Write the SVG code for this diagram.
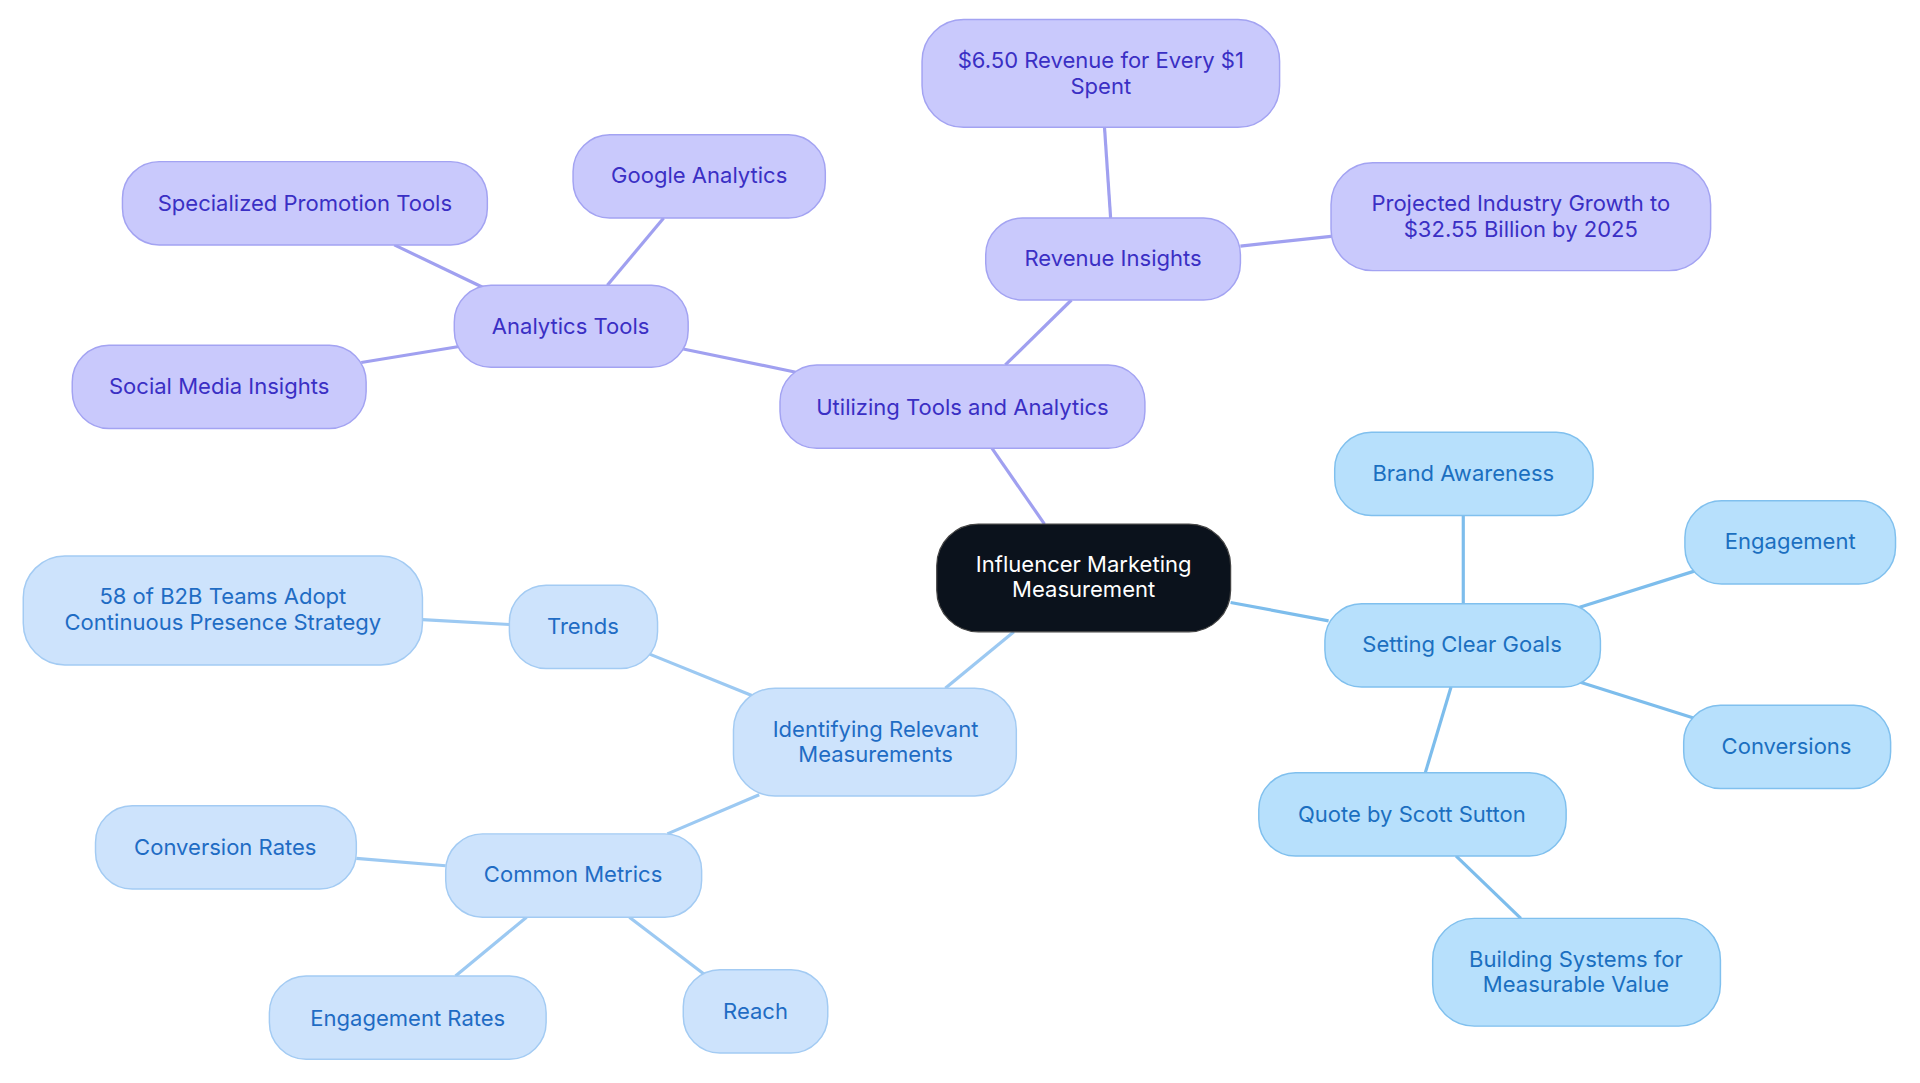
<svg xmlns="http://www.w3.org/2000/svg" width="1920" height="1083" viewBox="0 0 1920 1083">
<style>
text{font-family:Inter,"Noto Sans","Liberation Sans",sans-serif;font-size:18px;text-anchor:middle;dominant-baseline:central}
.p rect{fill:#c9c9fc;stroke:#a3a3f2;stroke-width:1.2}
.p text{fill:#3a2fc4}
.b rect{fill:#b7e0fc;stroke:#80c0ee;stroke-width:1.2}
.b text{fill:#1b6fc0}
.l rect{fill:#cde3fc;stroke:#a3cbf3;stroke-width:1.2}
.l text{fill:#1f6cc4}
#edges line{stroke-width:2.6;fill:none}
.ep{stroke:#a0a0f0}.eb{stroke:#7dbdec}.el{stroke:#9cc9f2}
</style>
<rect width="1920" height="1083" fill="#fff"/>
<g transform="scale(1.2245)">
<g id="edges">
<line class="ep" x1="853" y1="428" x2="810" y2="366"/>
<line class="ep" x1="821" y1="298" x2="875" y2="245"/>
<line class="ep" x1="907" y1="178" x2="902" y2="104"/>
<line class="ep" x1="1013" y1="201" x2="1087" y2="193"/>
<line class="ep" x1="650" y1="304" x2="558" y2="285"/>
<line class="ep" x1="496" y1="233" x2="542" y2="178"/>
<line class="ep" x1="395" y1="235" x2="322" y2="200"/>
<line class="ep" x1="375" y1="283" x2="295" y2="296"/>
<line class="eb" x1="1005" y1="492" x2="1085" y2="507"/>
<line class="eb" x1="1195" y1="493" x2="1195" y2="421"/>
<line class="eb" x1="1290" y1="496" x2="1385" y2="466"/>
<line class="eb" x1="1290" y1="557" x2="1385" y2="587"/>
<line class="eb" x1="1185" y1="561" x2="1164" y2="631"/>
<line class="eb" x1="1189" y1="699" x2="1242" y2="750"/>
<line class="el" x1="828" y1="516" x2="772" y2="562"/>
<line class="el" x1="614" y1="568" x2="530" y2="534"/>
<line class="el" x1="416" y1="510" x2="345" y2="506"/>
<line class="el" x1="620" y1="649" x2="545" y2="681"/>
<line class="el" x1="364" y1="707" x2="291" y2="701"/>
<line class="el" x1="430" y1="749" x2="372" y2="797"/>
<line class="el" x1="514" y1="749" x2="577" y2="797"/>
</g>
<g id="center"><rect x="765" y="428" width="240" height="88" rx="34" fill="#0b121c" stroke="#444" stroke-width="1"/><text x="885" y="461" fill="#fff">Influencer Marketing</text><text x="885" y="481" fill="#fff">Measurement</text></g>
<g id="utilizing" class="p"><rect x="637" y="298" width="298" height="68" rx="30"/><text x="786" y="332">Utilizing Tools and Analytics</text></g>
<g id="revenue" class="p"><rect x="805" y="178" width="208" height="67" rx="30"/><text x="909" y="211">Revenue Insights</text></g>
<g id="revenue650" class="p"><rect x="753" y="16" width="292" height="88" rx="34"/><text x="899" y="49">$6.50 Revenue for Every $1</text><text x="899" y="70">Spent</text></g>
<g id="projected" class="p"><rect x="1087" y="133" width="310" height="88" rx="34"/><text x="1242" y="166">Projected Industry Growth to</text><text x="1242" y="187">$32.55 Billion by 2025</text></g>
<g id="analytics" class="p"><rect x="371" y="233" width="191" height="67" rx="30"/><text x="466" y="266">Analytics Tools</text></g>
<g id="google" class="p"><rect x="468" y="110" width="206" height="68" rx="30"/><text x="571" y="143">Google Analytics</text></g>
<g id="specialized" class="p"><rect x="100" y="132" width="298" height="68" rx="30"/><text x="249" y="166">Specialized Promotion Tools</text></g>
<g id="social" class="p"><rect x="59" y="282" width="240" height="68" rx="30"/><text x="179" y="315">Social Media Insights</text></g>
<g id="goals" class="b"><rect x="1082" y="493" width="225" height="68" rx="30"/><text x="1194" y="526">Setting Clear Goals</text></g>
<g id="brand" class="b"><rect x="1090" y="353" width="211" height="68" rx="30"/><text x="1195" y="386">Brand Awareness</text></g>
<g id="engagement" class="b"><rect x="1376" y="409" width="172" height="68" rx="30"/><text x="1462" y="442">Engagement</text></g>
<g id="conversions" class="b"><rect x="1375" y="576" width="169" height="68" rx="30"/><text x="1459" y="609">Conversions</text></g>
<g id="quote" class="b"><rect x="1028" y="631" width="251" height="68" rx="30"/><text x="1153" y="665">Quote by Scott Sutton</text></g>
<g id="building" class="b"><rect x="1170" y="750" width="235" height="88" rx="34"/><text x="1287" y="783">Building Systems for</text><text x="1287" y="804">Measurable Value</text></g>
<g id="identifying" class="l"><rect x="599" y="562" width="231" height="88" rx="34"/><text x="715" y="595">Identifying Relevant</text><text x="715" y="616">Measurements</text></g>
<g id="trends" class="l"><rect x="416" y="478" width="121" height="68" rx="30"/><text x="476" y="511">Trends</text></g>
<g id="b2b" class="l"><rect x="19" y="454" width="326" height="89" rx="34"/><text x="182" y="487">58 of B2B Teams Adopt</text><text x="182" y="508">Continuous Presence Strategy</text></g>
<g id="common" class="l"><rect x="364" y="681" width="209" height="68" rx="30"/><text x="468" y="714">Common Metrics</text></g>
<g id="convrates" class="l"><rect x="78" y="658" width="213" height="68" rx="30"/><text x="184" y="692">Conversion Rates</text></g>
<g id="engrates" class="l"><rect x="220" y="797" width="226" height="68" rx="30"/><text x="333" y="831">Engagement Rates</text></g>
<g id="reach" class="l"><rect x="558" y="792" width="118" height="68" rx="30"/><text x="617" y="826">Reach</text></g>
</g>
</svg>
